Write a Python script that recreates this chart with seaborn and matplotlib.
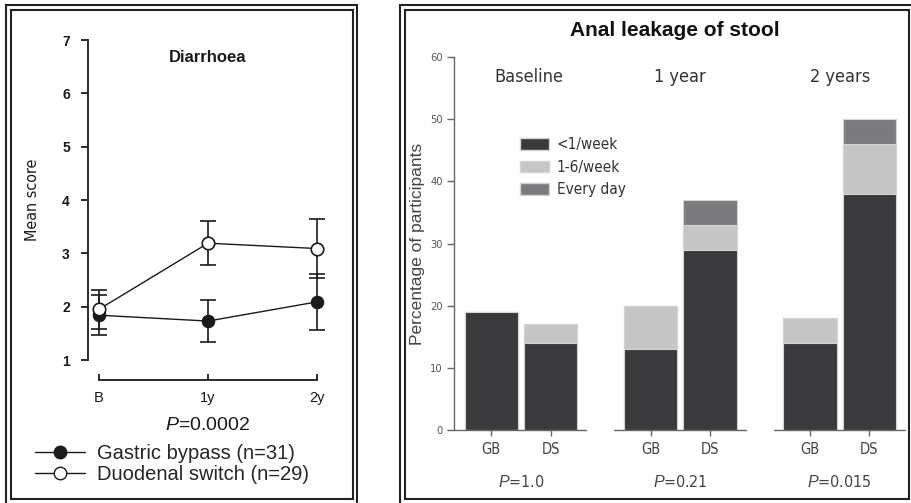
import numpy as np
import pandas as pd
import matplotlib.pyplot as plt
import seaborn as sns
from matplotlib import font_manager
from matplotlib.patches import Rectangle, Patch
from matplotlib.lines import Line2D
from matplotlib.transforms import blended_transform_factory

#==============================================================#
# data
#==============================================================#

# left panel - diarrhoea mean score (+/- error)
timepoints = ["B", "1y", "2y"]
gb_mean = [1.84, 1.73, 2.09]
gb_err = [0.37, 0.40, 0.53]
ds_mean = [1.95, 3.19, 3.09]
ds_err = [0.36, 0.41, 0.55]

# right panel - anal leakage of stool, % of participants
periods = ["Baseline", "1 year", "2 years"]
groups = ["GB", "DS"]
p_values = ["1.0", "0.21", "0.015"]
less_weekly = {"GB": [19, 13, 14], "DS": [14, 29, 38]}
few_weekly = {"GB": [0, 7, 4], "DS": [3, 4, 8]}
every_day = {"GB": [0, 0, 0], "DS": [0, 4, 4]}

#==============================================================#
# style
#==============================================================#
sns.set_style("white")
plt.rcParams['font.family'] = ['Liberation Sans', 'DejaVu Sans']
plt.rcParams['mathtext.fontset'] = 'custom'
plt.rcParams['mathtext.it'] = 'Liberation Sans:italic'
plt.rcParams['mathtext.rm'] = 'Liberation Sans'

# pick a narrow face for the right panel if one is installed
fonts = {(f.name, f.stretch) for f in font_manager.fontManager.ttflist}
if any(n == 'Liberation Sans Narrow' for n, s in fonts):
    narrow = dict(family='Liberation Sans Narrow', stretch='normal')
elif ('DejaVu Sans', 'condensed') in fonts:
    narrow = dict(family='DejaVu Sans', stretch='condensed')
else:
    narrow = dict(family='Liberation Sans', stretch='normal')

W, H = 912, 503
fig = plt.figure(figsize=(W / 100, H / 100), dpi=100)


def px_rect(x0, y0, x1, y1):
    # pixel box (top-left origin) -> figure fraction rect
    return [x0 / W, 1 - y1 / H, (x1 - x0) / W, (y1 - y0) / H]


def frame(x0, y0, x1, y1):
    r = px_rect(x0, y0, x1, y1)
    fig.add_artist(Rectangle((r[0], r[1]), r[2], r[3], transform=fig.transFigure,
                             fill=False, lw=1.5, ec='#222222'))


# double frames round each panel
frame(6, 5, 357, 506)
frame(11, 10, 353, 499)
frame(400, 5, 920, 506)
frame(405, 10, 909, 499)

#==============================================================#
# left panel
#==============================================================#
ax1 = fig.add_axes(px_rect(88, 40, 328, 360))
x = np.arange(len(timepoints))
ink = '#1a1a1a'

ax1.errorbar(x, gb_mean, yerr=gb_err, fmt='none', ecolor=ink, elinewidth=1.2,
             capsize=5.5, capthick=1.2, zorder=2)
ax1.errorbar(x, ds_mean, yerr=ds_err, fmt='none', ecolor=ink, elinewidth=1.2,
             capsize=5.5, capthick=1.2, zorder=2)
sns.lineplot(x=x, y=gb_mean, ax=ax1, color=ink, lw=1.0, marker='o', markersize=9,
             markerfacecolor=ink, markeredgecolor=ink, zorder=3)
sns.lineplot(x=x, y=ds_mean, ax=ax1, color=ink, lw=1.0, marker='o', markersize=9,
             markerfacecolor='white', markeredgecolor=ink, markeredgewidth=1.2, zorder=4)

ax1.set_xlim(-0.1, 2.1)
ax1.set_ylim(1, 7)
ax1.set_yticks(range(1, 8))
ax1.set_xticks(x)
ax1.set_xticklabels(timepoints)
for s in ['top', 'right']:
    ax1.spines[s].set_visible(False)
ax1.spines['left'].set_bounds(1, 7)
ax1.spines['bottom'].set_position(('outward', 14.4))
ax1.spines['bottom'].set_bounds(0, 2)
for s in ['left', 'bottom']:
    ax1.spines[s].set_color(ink)
    ax1.spines[s].set_linewidth(1.3)
ax1.tick_params(axis='y', direction='out', length=5, width=1.3, color=ink,
                labelsize=10, labelcolor=ink, pad=8, left=True)
ax1.tick_params(axis='x', direction='in', length=4, width=1.3, color=ink,
                labelsize=10.5, labelcolor=ink, pad=8, bottom=True)
for lab in ax1.get_yticklabels():
    lab.set_fontweight('bold')
ax1.set_ylabel("Mean score", fontsize=11.5, color=ink, **narrow)
ax1.yaxis.set_label_coords(-0.2, 0.5)
ax1.text(1, 6.68, "Diarrhoea", ha='center', va='center', fontsize=12,
         fontweight='bold', color=ink)

fig.text(208 / W, 1 - 425 / H, r"$\it{P}$=0.0002", ha='center', va='center',
         fontsize=14, color=ink)

leg_handles = [
    Line2D([], [], color=ink, lw=1.0, marker='o', markersize=9,
           markerfacecolor=ink, markeredgecolor=ink),
    Line2D([], [], color=ink, lw=1.0, marker='o', markersize=9,
           markerfacecolor='white', markeredgecolor=ink),
]
ax1.legend(leg_handles, ["Gastric bypass (n=31)", "Duodenal switch (n=29)"],
           loc='upper left', bbox_to_anchor=(35 / W, 1 - 444 / H),
           bbox_transform=fig.transFigure, frameon=False, fontsize=14.5,
           handlelength=2.5, handletextpad=0.6, labelspacing=0.12,
           borderpad=0, borderaxespad=0)

#==============================================================#
# right panel - stacked bars (drawn as overlaid cumulative layers)
#==============================================================#
rows = []
for g in groups:
    for i, p in enumerate(periods):
        low = less_weekly[g][i]
        mid = low + few_weekly[g][i]
        top = mid + every_day[g][i]
        rows.append({'period': p, 'group': g, 'low': low, 'mid': mid, 'top': top})
df = pd.DataFrame(rows)

dark, light, medium = '#3a3a3c', '#c6c6c6', '#7b7b7d'
edge = '#d4d4d4'

ax2 = fig.add_axes(px_rect(454, 57, 905, 430))
for col, c in [('top', medium), ('mid', light), ('low', dark)]:
    sns.barplot(data=df, x='period', y=col, hue='group', order=periods,
                hue_order=groups, palette=[c, c], saturation=1, width=0.744,
                gap=0.1, edgecolor=edge, linewidth=0.8, legend=False, ax=ax2)

grey = '#666666'
ax2.set_xlim(-0.42, 2.41)
ax2.set_ylim(0, 60)
ax2.set_yticks(range(0, 61, 10))
ax2.set_xlabel("")
for s in ['top', 'right', 'bottom']:
    ax2.spines[s].set_visible(False)
ax2.spines['left'].set_color(grey)
ax2.spines['left'].set_linewidth(1.0)

# broken x axis: one segment per time point
for g in range(len(periods)):
    ax2.plot([g - 0.415, g + 0.41], [0, 0], color=grey, lw=1.0, clip_on=False)

pos = []
labs = []
for g in range(len(periods)):
    pos += [g - 0.186, g + 0.186]
    labs += groups
ax2.set_xticks(pos)
ax2.set_xticklabels(labs)
ax2.tick_params(axis='x', direction='out', length=4, width=1.0, color=grey,
                labelsize=10.5, labelcolor='#444444', pad=5, bottom=True)
ax2.tick_params(axis='y', direction='out', length=5, width=1.0, color=grey,
                labelsize=8, labelcolor='#555555', pad=3, left=True)
for lab in ax2.get_xticklabels() + ax2.get_yticklabels():
    lab.set_family(narrow['family'])
    lab.set_stretch(narrow['stretch'])

ax2.set_ylabel("Percentage of participants", fontsize=12.5, color='#444444')
ax2.yaxis.set_label_coords(-0.065, 0.5)

for g, p in enumerate(periods):
    ax2.text(g + (0.05 if g == 0 else 0), 56.8, p, ha='center', va='center',
             fontsize=13, color='#333333', **narrow)

trans = blended_transform_factory(ax2.transData, ax2.transAxes)
for g, pv in enumerate(p_values):
    ax2.text(g, -0.139, r"$\it{P}$=" + pv, transform=trans, ha='center',
             va='center', fontsize=11.5, color='#444444', **narrow)

leg2 = [Patch(facecolor=dark, edgecolor=edge, label="<1/week"),
        Patch(facecolor=light, edgecolor=edge, label="1-6/week"),
        Patch(facecolor=medium, edgecolor=edge, label="Every day")]
lg = ax2.legend(handles=leg2, loc='upper left', bbox_to_anchor=(0.146, 0.785),
                frameon=False, fontsize=11, handlelength=1.9, handleheight=0.8,
                handletextpad=0.5, labelspacing=0.5, borderpad=0, borderaxespad=0)
for t in lg.get_texts():
    t.set_family(narrow['family'])
    t.set_stretch(narrow['stretch'])
    t.set_color('#333333')

fig.text(675 / W, 1 - 30 / H, "Anal leakage of stool", ha='center', va='center',
         fontsize=15, fontweight='bold', color='#111111')

fig.savefig("out.png", dpi=100)
